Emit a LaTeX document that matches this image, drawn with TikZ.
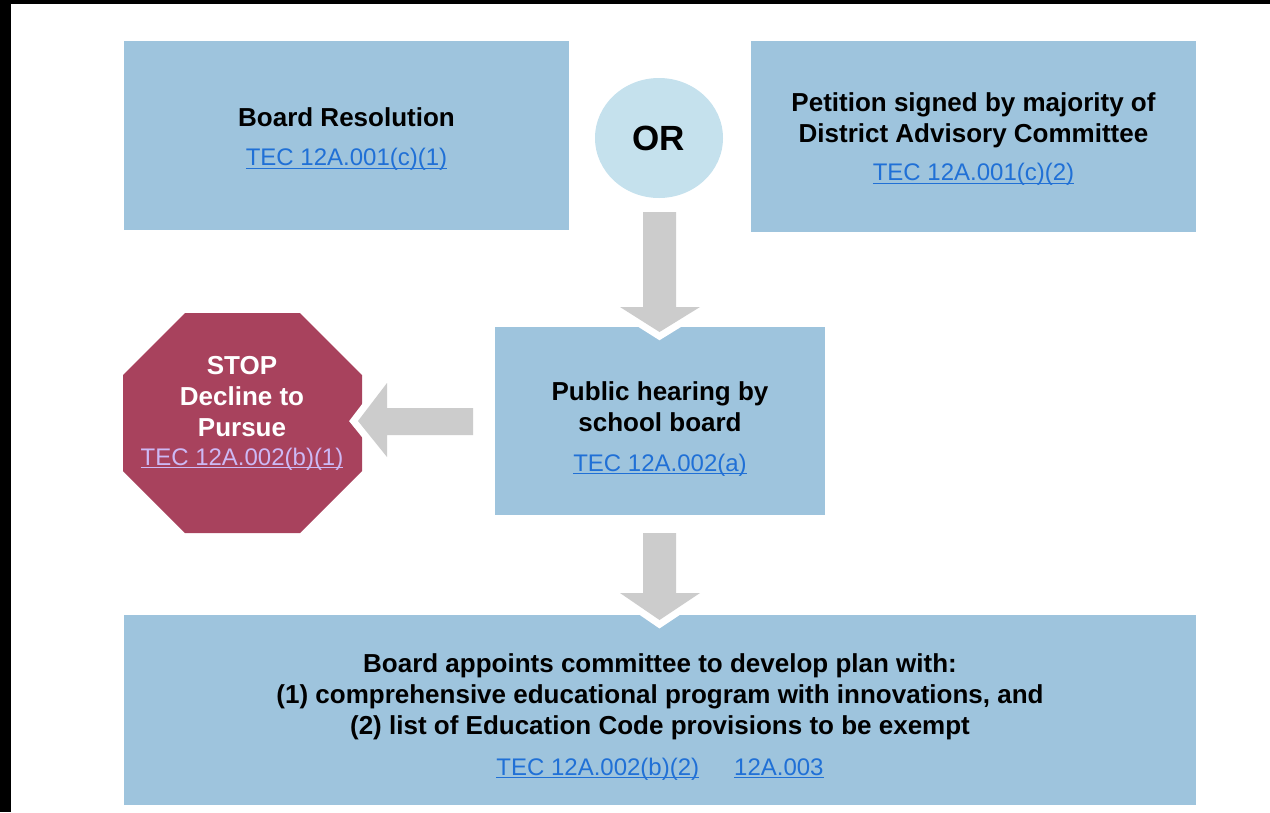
\documentclass[tikz,border=0pt]{standalone}
\usepackage{fontspec}
\setmainfont{Liberation Sans}
\usetikzlibrary{shapes.geometric}

\definecolor{boxblue}{RGB}{158,196,221}
\definecolor{orblue}{RGB}{197,225,237}
\definecolor{arrowgray}{RGB}{204,204,204}
\definecolor{stopred}{RGB}{168,66,93}
\definecolor{linkblue}{RGB}{32,112,214}
\definecolor{linklilac}{RGB}{205,185,245}

\newcommand{\tec}[2][linkblue]{{\fontsize{24}{29}\selectfont\mdseries\color{#1}%
  \setbox0\hbox{#2}\rlap{\rule[-3pt]{\wd0}{1.2pt}}\box0}}

\begin{document}
\begin{tikzpicture}[x=1pt,y=-1pt]
    % `box' is used for the light blue steps, `boxtext' for what is written in them.
    % `grayarrow' is used for the big block arrows between them.
    \tikzstyle{box} = [fill=boxblue,inner sep=0pt]
    \tikzstyle{boxtext} = [align=center,inner sep=0pt,font=\fontsize{26}{31}\selectfont\bfseries]
    \tikzstyle{grayarrow} = [fill=arrowgray,preaction={draw=white,line width=14pt}]
    %
    \useasboundingbox (0,0) rectangle (1270,812);
    \fill[black] (0,0) rectangle (1270,3.5);
    \fill[black] (0,0) rectangle (11,812);
    %
    \node[box,minimum width=445,minimum height=189] (resolution) at (346.5,135.5) {};
    \node[boxtext] (resolution-text) at ([yshift=-4pt]resolution.center)
        {Board Resolution\\[8pt]\tec{TEC 12A.001(c)(1)}};
    \node[box,minimum width=445,minimum height=191] (petition) at (973.5,136.5) {};
    \node[boxtext] (petition-text) at ([yshift=-3pt]petition.center)
        {Petition signed by majority of\\District Advisory Committee\\[7pt]\tec{TEC 12A.001(c)(2)}};
    \node[ellipse,fill=orblue,minimum width=128,minimum height=120,inner sep=0pt,
          font=\fontsize{35}{40}\selectfont\bfseries] (or) at (659,138) {OR};
    \node[box,minimum width=330,minimum height=188] (hearing) at (660,421) {};
    \node[boxtext] (hearing-text) at ([yshift=-8pt]hearing.center)
        {Public hearing by\\school board\\[9pt]\tec{TEC 12A.002(a)}};
    \node[box,minimum width=1072,minimum height=190] (committee) at (660,710) {};
    \node[boxtext] (committee-text) at ([yshift=-7pt]committee.center)
        {Board appoints committee to develop plan with:\\
         (1) comprehensive educational program with innovations, and\\
         (2) list of Education Code provisions to be exempt\\[10pt]
         \tec{TEC 12A.002(b)(2)}\hspace{35pt}\tec{12A.003}};
    % Draw stop sign.
    \fill[stopred] (185,313) -- (300,313) -- (362,375) -- (362,471)
        -- (300,533) -- (185,533) -- (123,471) -- (123,375) -- cycle;
    \node[boxtext,text=white] (stop) at (242,413)
        {STOP\\Decline to\\Pursue\\[-2pt]\tec[linklilac]{TEC 12A.002(b)(1)}};
    % Draw arrows.
    \fill[grayarrow] (643,212) -- (676,212) -- (676,307) -- (700,307) -- (659.5,332)
        -- (620,307) -- (643,307) -- cycle;
    \fill[grayarrow] (643,533) -- (676,533) -- (676,593) -- (700,593) -- (659.5,620)
        -- (620,593) -- (643,593) -- cycle;
    \fill[grayarrow] (473,408) -- (473,435) -- (387,435) -- (387,457) -- (358,421)
        -- (387,383) -- (387,408) -- cycle;
\end{tikzpicture}
\end{document}
